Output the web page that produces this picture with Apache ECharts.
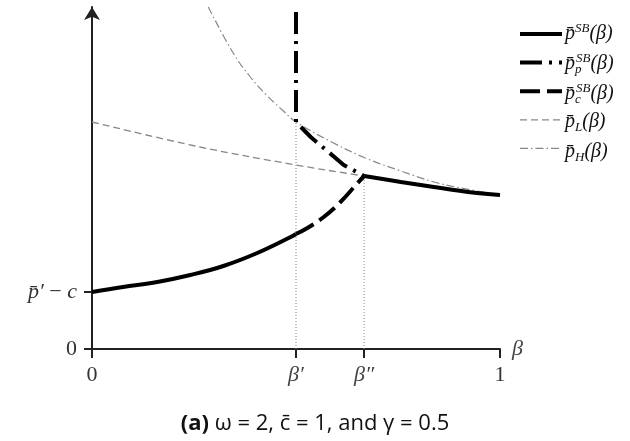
<!DOCTYPE html>
<html>
<head>
<meta charset="utf-8">
<script src="https://cdn.jsdelivr.net/npm/echarts@6/dist/echarts.min.js"></script>
<style>
html, body { margin: 0; padding: 0; background: #fff; }
#chart { width: 630px; height: 441px; }
</style>
</head>
<body>
<div id="chart"></div>
<script>
// axis ticks and their labels
const betaTicks = [0, 0.5, 0.667, 1];
const betaLabels = ['0', '{i|β′}', '{i|β″}', '1'];
const priceTicks = [0, 0.57];
const priceLabels = ['0', '{i|p̄′} − {i|c}'];

// curves, [beta, price]
const pSBLow = [[0, 0.57], [0.076, 0.62], [0.16, 0.67], [0.241, 0.74], [0.322, 0.83], [0.405, 0.96], [0.487, 1.12], [0.5, 1.15]];
const pSBHigh = [[0.667, 1.73], [0.757, 1.67], [0.838, 1.62], [0.921, 1.57], [1, 1.54]];
const pSBp = [[0.5, 3.37], [0.5, 2.27], [0.536, 2.12], [0.568, 2.01], [0.617, 1.84], [0.667, 1.73]];
const pSBc = [[0.5, 1.15], [0.528, 1.21], [0.568, 1.32], [0.609, 1.47], [0.651, 1.66], [0.667, 1.73]];
const pL = [[0, 2.27], [0.265, 2.02], [0.5, 1.84], [0.651, 1.74], [0.667, 1.73], [0.757, 1.67], [0.838, 1.62], [0.921, 1.57], [1, 1.54]];
const pH = [[0.285, 3.42], [0.346, 2.96], [0.388, 2.72], [0.43, 2.53], [0.469, 2.38], [0.5, 2.27], [0.592, 2.06], [0.676, 1.90], [0.757, 1.78], [0.838, 1.67], [0.904, 1.61], [1, 1.54]];
const guidePrime = [[0.5, 0], [0.5, 2.27]];
const guideSecond = [[0.667, 0], [0.667, 1.73]];

const legendNames = ['sb', 'sbp', 'sbc', 'L', 'H'];
const legendLabels = [
    '{i|p̄}{sup|SB}{i|(β)}',
    '{i|p̄}{subz|p}{sup|SB}{i|(β)}',
    '{i|p̄}{subz|c}{sup|SB}{i|(β)}',
    '{i|p̄}{sub|L}{i|(β)}',
    '{i|p̄}{sub|H}{i|(β)}'
];

const serif = 'Liberation Serif';
const axisColor = '#222';
const gray = '#888';
const small = { fontFamily: serif, fontStyle: 'italic', fontSize: 13, lineHeight: 13, fill: '#111' };
const legendRich = {
    i: { fontFamily: serif, fontStyle: 'italic', fontSize: 20, lineHeight: 24, fill: '#111' },
    sup: Object.assign({ verticalAlign: 'top' }, small),
    sub: Object.assign({ verticalAlign: 'bottom' }, small),
    subz: Object.assign({ verticalAlign: 'bottom', width: 1 }, small)
};

// legend rows: icons come from the legend, the math labels are drawn beside them
const legendTop = 27;
const rowStep = 30;

const chart = echarts.init(document.getElementById('chart'));

const option = {
    animation: false,
    title: {
        text: '{b|(a)} ω = 2, c̄ = 1, and γ = 0.5',
        left: 'center',
        top: 408,
        textStyle: {
            fontFamily: 'Open Sans',
            fontSize: 22,
            fontWeight: 'normal',
            color: '#111',
            rich: {
                b: { fontFamily: 'Open Sans', fontSize: 22, fontWeight: 'bold', color: '#111' }
            }
        }
    },
    legend: {
        orient: 'vertical',
        left: 518,
        top: legendTop,
        padding: 0,
        itemWidth: 42,
        itemHeight: 14,
        itemGap: rowStep - 14,
        selectedMode: false,
        data: legendNames,
        lineStyle: { width: 'inherit' },
        itemStyle: { opacity: 0 },
        formatter: () => ''
    },
    graphic: legendLabels.map((t, k) => ({
        type: 'text',
        left: 565,
        top: legendTop + 7 + k * rowStep - 12,
        style: { text: t, rich: legendRich, fill: '#111' }
    })),
    grid: { left: 92, right: 130, top: 7, bottom: 92 },
    xAxis: {
        type: 'value',
        min: 0,
        max: 1,
        name: 'β',
        nameLocation: 'end',
        nameGap: 12,
        nameTextStyle: { fontFamily: serif, fontStyle: 'italic', fontSize: 22, color: '#444', padding: [0, 0, 6, 0] },
        axisLine: { show: true, lineStyle: { color: axisColor, width: 2 } },
        axisTick: { show: true, customValues: betaTicks, length: 9, lineStyle: { color: axisColor, width: 2 } },
        axisLabel: {
            customValues: betaTicks,
            margin: 15,
            fontFamily: serif,
            fontSize: 22,
            color: '#333',
            formatter: (v) => betaLabels[betaTicks.indexOf(v)],
            rich: { i: { fontFamily: serif, fontStyle: 'italic', fontSize: 22, color: '#444' } }
        },
        splitLine: { show: false }
    },
    yAxis: {
        type: 'value',
        min: 0,
        max: 3.42,
        axisLine: {
            show: true,
            symbol: ['none', 'arrow'],
            symbolSize: [12, 13],
            lineStyle: { color: axisColor, width: 2 }
        },
        axisTick: { show: true, customValues: priceTicks, length: 8, lineStyle: { color: axisColor, width: 2 } },
        axisLabel: {
            customValues: priceTicks,
            margin: 15,
            fontFamily: serif,
            fontSize: 22,
            color: '#333',
            formatter: (v) => priceLabels[priceTicks.indexOf(v)],
            rich: { i: { fontFamily: serif, fontStyle: 'italic', fontSize: 22, color: '#333' } }
        },
        splitLine: { show: false }
    },
    series: [
        {
            name: 'guide1', type: 'line', data: guidePrime, symbol: 'none',
            lineStyle: { color: gray, width: 1, type: [1, 2] }
        },
        {
            name: 'guide2', type: 'line', data: guideSecond, symbol: 'none',
            lineStyle: { color: gray, width: 1, type: [1, 2] }
        },
        {
            name: 'L', type: 'line', data: pL, symbol: 'none', smooth: 0.4,
            itemStyle: { color: gray },
            lineStyle: { color: gray, width: 1.3, type: [7, 4] }
        },
        {
            name: 'H', type: 'line', data: pH, symbol: 'none', smooth: 0.4,
            itemStyle: { color: gray },
            lineStyle: { color: gray, width: 1.2, type: [8, 3, 1.5, 3] }
        },
        {
            name: 'sbc', type: 'line', data: pSBc, symbol: 'none', smooth: 0.4,
            itemStyle: { color: '#000' },
            lineStyle: { color: '#000', width: 4, type: [20, 7] }
        },
        {
            name: 'sbp', type: 'line', data: pSBp, symbol: 'none', smooth: false,
            itemStyle: { color: '#000' },
            lineStyle: { color: '#000', width: 4, type: [22, 7, 3, 7] }
        },
        {
            name: 'sb', type: 'line', data: pSBLow, symbol: 'none', smooth: 0.4,
            itemStyle: { color: '#000' },
            lineStyle: { color: '#000', width: 4 }
        },
        {
            name: 'sb', type: 'line', data: pSBHigh, symbol: 'none', smooth: 0.4,
            itemStyle: { color: '#000' },
            lineStyle: { color: '#000', width: 4 }
        }
    ]
};

chart.setOption(option);
</script>
</body>
</html>
